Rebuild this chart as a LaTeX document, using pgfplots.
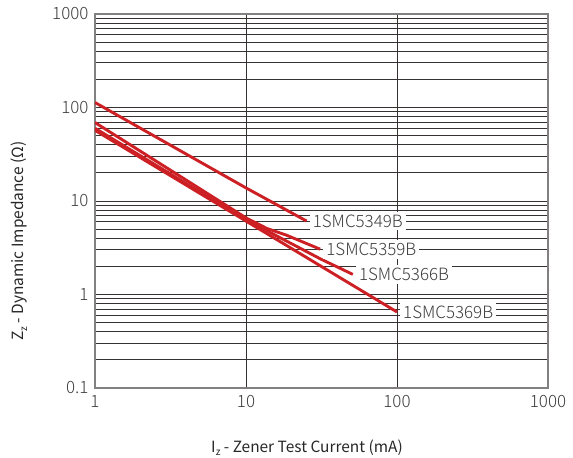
\documentclass[border=0pt]{standalone}
\usepackage{fontspec}
\setmainfont{Noto Sans CJK SC}
\newfontfamily\lightfont{Noto Sans CJK SC Light}
\usepackage{pgfplots}
\pgfplotsset{compat=1.18}
\definecolor{zred}{RGB}{204,32,36}
\definecolor{gridc}{RGB}{55,50,50}
\definecolor{framec}{RGB}{130,128,128}
\definecolor{txtc}{RGB}{60,60,60}
\newcommand{\sub}[1]{\raisebox{-0.45ex}{\fontsize{10}{10}\selectfont #1}}
\begin{document}
\begin{tikzpicture}[x=1bp,y=1bp]
\path[use as bounding box] (-95,-70) rectangle (478,388);
\begin{axis}[
  at={(0,0)}, anchor=south west,
  scale only axis, width=453bp, height=374bp,
  xmode=log, ymode=log,
  xmin=1, xmax=1000, ymin=0.1, ymax=1000,
  xtick={1,10,100,1000}, xticklabels={1,10,100,1000},
  ytick={0.1,1,10,100,1000}, yticklabels={0.1,1,10,100,1000},
  xminorgrids=false, xmajorgrids=true,
  ymajorgrids=true, yminorgrids=true,
  major tick length=0pt, minor tick length=0pt,
  grid style={draw=gridc, line width=0.9bp},
  major grid style={draw=gridc, line width=0.9bp},
  minor grid style={draw=gridc, line width=0.9bp},
  axis line style={draw=framec, line width=1.4bp},
  tick label style={font=\lightfont\fontsize{17}{18}\selectfont, text=txtc},
  xticklabel style={yshift=-4bp},
  yticklabel style={xshift=-3bp},
  xlabel={I\sub{z} - Zener Test Current (mA)},
  ylabel={Z\sub{z} - Dynamic Impedance (Ω)},
  label style={font=\fontsize{15.5}{18}\selectfont, text=black!85},
  xlabel style={at={(axis description cs:0.468,0)}, anchor=base, yshift=-64bp},
  ylabel style={at={(axis description cs:-0.168,0.393)}, anchor=center, rotate=0},
  clip=true,
]
\addplot[zred, line width=2.9bp] coordinates {(1,113) (10,13.8) (25.2,6.1)};
\addplot[zred, line width=2.9bp] coordinates {(1,69) (10,6.6) (13.7,5.1) (18.6,4.3) (31,3.05)};
\addplot[zred, line width=2.9bp] coordinates {(1,60) (10,6.3) (31,2.41) (51,1.64)};
\addplot[zred, line width=2.9bp] coordinates {(1,57) (10,6.1) (100,0.65)};
\tikzset{lbl/.style={anchor=west, fill=white, inner xsep=3bp, inner ysep=3bp, xshift=3bp, text=txtc, font=\lightfont\fontsize{17}{18}\selectfont}}
\node[lbl] at (axis cs:25.2,6.1) {1SMC5349B};
\node[lbl] at (axis cs:31,3.05) {1SMC5359B};
\node[lbl] at (axis cs:51,1.64) {1SMC5366B};
\node[lbl] at (axis cs:100,0.65) {1SMC5369B};
\end{axis}
\end{tikzpicture}
\end{document}
